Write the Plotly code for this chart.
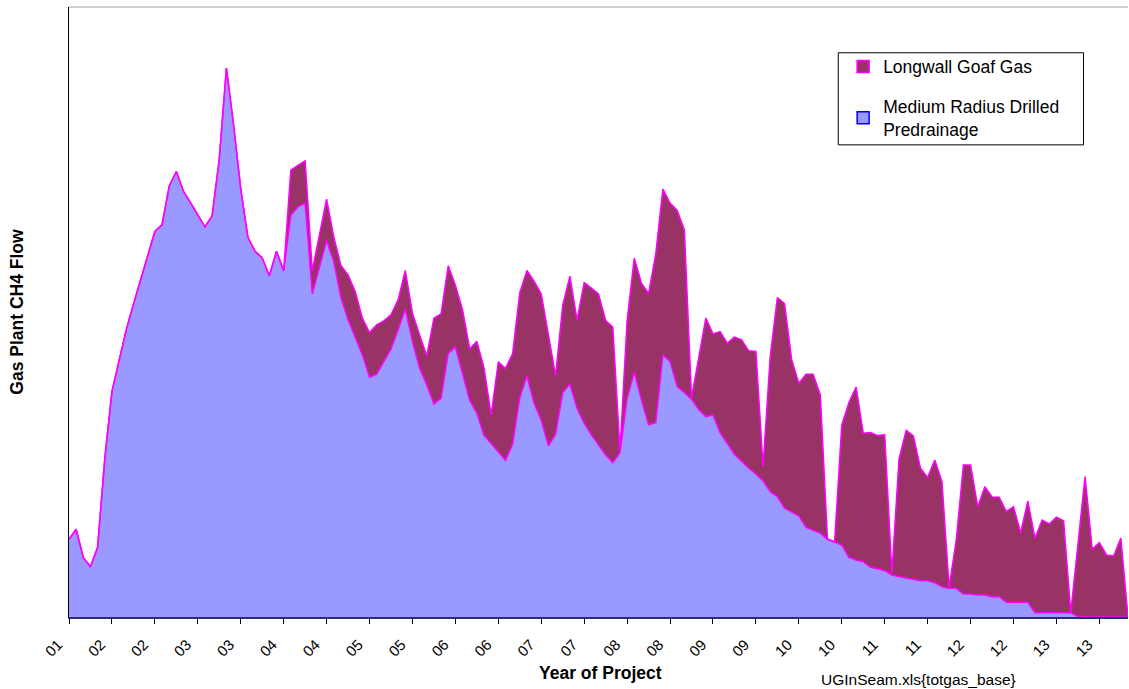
import plotly.graph_objects as go

# ---- data (arbitrary flow units) ----
tick_labels = ["01", "02", "02", "03", "03", "04", "04", "05", "05", "06", "06",
               "07", "07", "08", "08", "09", "09", "10", "10", "11", "11",
               "12", "12", "13", "13"]

medium = [77.7, 87.7, 59.3, 50.3, 69.7, 158, 225.3, 256, 287, 312.5,
          336, 361.6, 385.3, 392, 430.5, 445.3, 425.5, 414, 402, 390,
          401, 457.5, 548.7, 492, 428, 379.5, 365.5, 359, 341, 365.5,
          346, 401.5, 410, 413.7, 323, 349.5, 376.3, 355.3, 319, 297,
          278.7, 262, 239.7, 242.7, 255.3, 267.7, 287, 307.7, 275.3, 248.7,
          232, 213, 218.7, 263.5, 269.7, 242, 216.5, 203.7, 181.5, 173.3,
          164.5, 156.6, 172.8, 219.5, 241, 213.7, 196.6, 171, 182.8, 224.3,
          232.8, 208.7, 193.7, 182, 172, 162, 154.3, 164.3, 218.7, 244.7,
          217, 192, 194.3, 262, 255.3, 230.3, 224.3, 217.7, 207.5, 200.3,
          202, 184, 173.7, 162.5, 155.8, 148.7, 143, 136, 125.3, 120.3,
          108.7, 104.7, 101, 89.7, 86.3, 83.7, 77.7, 74.7, 72, 59.7,
          57, 55.3, 49.7, 48.3, 46.3, 42, 40.3, 39, 37.7, 36.3,
          36.3, 34.3, 30.3, 28.7, 28.7, 23, 23, 22, 22, 20.3,
          20.3, 14.7, 14.7, 14.7, 14.7, 4.3, 4.3, 4.3, 4.3, 4.3,
          4.3, 0.3, 0, 0, 0, 0, 0, 0, 0]

longwall = [0, 0, 0, 0, 0, 0, 0, 0, 0, 0,
            0, 0, 0, 0, 0, 0, 0, 0, 0, 0,
            0, 0, 0, 0, 0, 0, 0, 0, 0, 0,
            0, 45, 41.5, 42.3, 23, 31.5, 41.4, 24.7, 32.5, 45,
            46.6, 36.7, 44.6, 49.3, 40.7, 34.3, 30, 38.6, 28.4, 33.3,
            29, 85.7, 84.3, 87.5, 61.8, 65, 51.5, 71.8, 67.5, 28.7,
            90.5, 91.7, 90.5, 104.8, 105.3, 121.9, 126.2, 111, 58.4, 87.2,
            107.8, 88.3, 140.6, 146.7, 150.8, 134.3, 135.4, 1.7, 77.6, 114,
            116.7, 131.3, 168.5, 165.7, 158.4, 176, 162.7, 1.3, 53.5, 98.4,
            81, 101.3, 100, 117.2, 121.2, 117.3, 122.5, 14.7, 135, 199,
            204.6, 152.3, 132.7, 153, 156.4, 138.3, 0, 0.6, 120, 154.6,
            172.7, 128.4, 134.6, 133, 135.7, 1.7, 117.4, 147.7, 143.3, 112.4,
            103.2, 122.7, 105, 1, 48.3, 129, 129, 88, 108.3, 99.7,
            99.4, 90.6, 95.6, 69.3, 101.3, 74.4, 92.7, 88.7, 95.4, 92,
            0.2, 69.7, 140.3, 68, 74.3, 62, 61, 79, 0.3]

months = list(range(len(medium)))
tick_step = 6
y_max = 609.7

FONT = "Arial, Liberation Sans, sans-serif"
BLUE_FILL = "#9999FF"
PURPLE_FILL = "#993366"
MAGENTA = "#FF00FF"

fig = go.Figure()

fig.add_trace(go.Scatter(
    x=months, y=medium, stackgroup="gas", mode="lines",
    line=dict(color=MAGENTA, width=1.5), fillcolor=BLUE_FILL,
    name="Medium Radius Drilled Predrainage", showlegend=False,
    hoverinfo="x+y"))
fig.add_trace(go.Scatter(
    x=months, y=longwall, stackgroup="gas", mode="lines",
    line=dict(color=MAGENTA, width=1.5), fillcolor=PURPLE_FILL,
    name="Longwall Goaf Gas", showlegend=False, hoverinfo="x+y"))

# legend entries (square swatches as in the reference)
fig.add_trace(go.Scatter(
    x=[None], y=[None], mode="markers", name="Longwall Goaf Gas",
    legendgroup="a", legendrank=1,
    marker=dict(symbol="square", size=12, color=PURPLE_FILL,
                line=dict(color=MAGENTA, width=1.5))))
fig.add_trace(go.Scatter(
    x=[None], y=[None], mode="markers",
    name="Medium Radius Drilled<br>Predrainage",
    legendgroup="b", legendrank=2,
    marker=dict(symbol="square", size=12, color=BLUE_FILL,
                line=dict(color="#0000FF", width=1.5))))

fig.update_layout(
    width=1129, height=689,
    margin=dict(l=69, r=1, t=7, b=72),
    paper_bgcolor="white", plot_bgcolor="white",
    font=dict(family=FONT, size=14, color="black"),
    showlegend=True,
    legend=dict(x=0.731, y=0.9316, xanchor="left", yanchor="top",
                bgcolor="rgba(0,0,0,0)", borderwidth=0,
                traceorder="grouped", tracegroupgap=14,
                font=dict(family=FONT, size=17.5, color="black"),
                itemwidth=30),
    xaxis=dict(range=[0, len(medium) - 1],
               tickvals=months[::tick_step], ticktext=tick_labels,
               tickangle=-45, ticks="outside", ticklen=5, tickcolor="black",
               ticklabelstandoff=6, ticklabelshift=-11,
               tickfont=dict(family=FONT, size=15, color="black"),
               showline=True, linecolor="#2B2B7F", linewidth=2,
               showgrid=False, zeroline=False),
    yaxis=dict(range=[0, y_max], showticklabels=False, ticks="",
               showline=True, linecolor="black", linewidth=1,
               showgrid=False, zeroline=False),
    shapes=[
        dict(type="line", xref="paper", yref="paper", x0=0, x1=1, y0=1, y1=1,
             line=dict(color="#A0A0A0", width=1)),
        dict(type="rect", xref="paper", yref="paper",
             x0=0.7264, x1=0.958, y0=0.774, y1=0.925,
             line=dict(color="black", width=1), fillcolor="rgba(0,0,0,0)"),
    ],
    annotations=[
        dict(text="<b>Year of Project</b>", xref="paper", yref="paper",
             x=0.5017, y=-0.0918, xanchor="center", yanchor="middle",
             showarrow=False, font=dict(family=FONT, size=17.5)),
        dict(text="<b>Gas Plant CH4 Flow</b>", xref="paper", yref="paper",
             x=-0.0494, y=0.5, xanchor="center", yanchor="middle",
             textangle=-90, showarrow=False, font=dict(family=FONT, size=17.5)),
        dict(text="UGInSeam.xls{totgas_base}", xref="paper", yref="paper",
             x=0.802, y=-0.103, xanchor="center", yanchor="middle",
             showarrow=False, font=dict(family=FONT, size=15.5)),
    ],
)

fig.write_html(
    "out.html",
    config={"displayModeBar": False},
    post_script="document.body.style.margin='0';"
                "document.body.style.overflow='hidden';")
